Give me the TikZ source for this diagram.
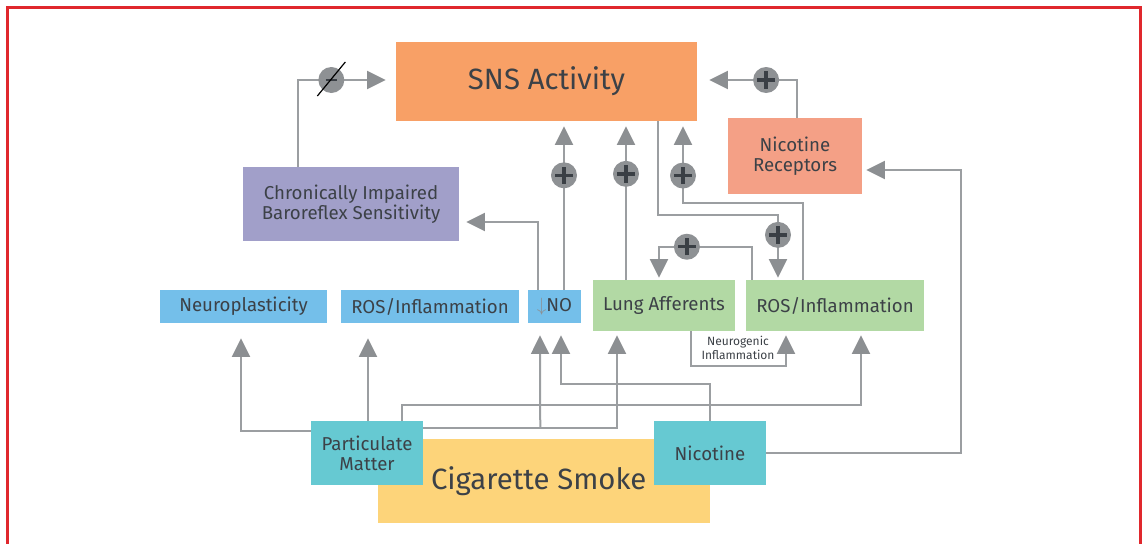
\documentclass[tikz,border=0pt]{standalone}
\usepackage{fontspec}
\setmainfont{Fira Sans}
\usetikzlibrary{calc,arrows.meta}

\definecolor{snsorange}{RGB}{248,160,102}
\definecolor{recsalmon}{RGB}{244,160,134}
\definecolor{baropurple}{RGB}{161,159,201}
\definecolor{cnsblue}{RGB}{116,191,234}
\definecolor{lunggreen}{RGB}{178,217,164}
\definecolor{smoketeal}{RGB}{102,201,210}
\definecolor{smokeyellow}{RGB}{253,212,122}
\definecolor{linegray}{RGB}{155,158,161}
\definecolor{headgray}{RGB}{140,143,146}
\definecolor{circgray}{RGB}{142,145,148}
\definecolor{signdark}{RGB}{58,63,69}
\definecolor{textdark}{RGB}{60,65,71}
\definecolor{framered}{RGB}{224,40,45}

% signs drawn with rules
\newcommand{\plussign}{\makebox[0pt]{\rule[-1.25pt]{13pt}{2.5pt}}\makebox[0pt]{\rule[-6.5pt]{2.5pt}{13pt}}}
\newcommand{\minussign}{\makebox[0pt]{\rule[-1.1pt]{8.5pt}{2.2pt}}}

\begin{document}
\begin{tikzpicture}[x=0.75pt,y=0.75pt,yscale=-1,xscale=1,
  box/.style={rectangle,inner sep=0pt,align=center,text=textdark,font=\fontsize{14}{15}\selectfont},
  flow/.style={draw=linegray,line width=1.5pt,-{Triangle[length=14pt,width=13.5pt,color=headgray]}},
  plusc/.style={circle,fill=circgray,text=signdark,inner sep=0pt,minimum size=19.5pt},
  minusc/.style={circle,fill=circgray,text=signdark,inner sep=0pt,minimum size=19.5pt}]
\useasboundingbox (0,0) rectangle (1142,543);

%Frame
\draw [framered,line width=2.25pt] (7,560) -- (7,7) -- (1140,7) -- (1140,560) ;

%Shape: Rectangle
\node [box,fill=snsorange,minimum width=225.75pt,minimum height=59.25pt,font=\fontsize{22}{24}\selectfont] (sns) at (546.5,81.5) {SNS Activity};
\node [box,fill=recsalmon,minimum width=100.5pt,minimum height=57pt] (nrec) at (795,156) {Nicotine\\Receptors};
\node [box,fill=baropurple,minimum width=162pt,minimum height=55.5pt] (baro) at (351,204) {Chronically Impaired\\Baroreflex Sensitivity};
% blue row
\node [box,fill=cnsblue,minimum width=125.25pt,minimum height=24.75pt] (neuro) at (243.5,306.5) {Neuroplasticity};
\node [box,fill=cnsblue,minimum width=133.5pt,minimum height=24.75pt] (rosb) at (430,306.5) {ROS/Inflammation};
\node [box,fill=cnsblue,minimum width=39.75pt,minimum height=24.75pt] (no) at (554.5,306.5) {{\color{headgray}$\downarrow$}NO};
% green row
\node [box,fill=lunggreen,minimum width=106.5pt,minimum height=38.25pt] (lung) at (664,305.5) {Lung Afferents};
\node [box,fill=lunggreen,minimum width=133.5pt,minimum height=38.25pt] (rosg) at (835,305.5) {ROS/Inflammation};
% smoke
\node [box,fill=smokeyellow,minimum width=249pt,minimum height=63pt,font=\fontsize{22}{24}\selectfont] (smoke) at (544,481) {\hspace*{-8pt}Cigarette Smoke};
\node [box,fill=smoketeal,minimum width=84pt,minimum height=48pt] (pm) at (367,453) {Particulate\\Matter};
\node [box,fill=smoketeal,minimum width=84pt,minimum height=48pt] (nic) at (710,453) {Nicotine};

%Straight Lines
\draw [flow] ($(baro.north)+(-53,0)$) |- node [minusc,pos=0.69] (m1) {\minussign} ($(sns.west)+(-10,-1.5)$) ;
\draw [black,line width=0.9pt] ($(m1)+(-14,16)$) -- ($(m1)+(14,-18)$) ;
\draw [flow] ($(nrec.north)+(2,0)$) |- node [plusc,pos=0.676] (p1) {\plussign} ($(sns.east)+(12,-1.5)$) ;
\draw [flow] ($(no.north)+(9.5,0)$) -- node [plusc,pos=0.70] (p2) {\plussign} ($(sns.south)+(17.5,5)$) ;
\draw [flow] ($(no.north)+(-16.5,0)$) |- ($(baro.east)+(7,18)$) ;
\draw [flow] ($(lung.north)+(-38,0)$) -- node [plusc,pos=0.69] (p3) {\plussign} ($(sns.south)+(79.5,5)$) ;
\draw [flow] ($(sns.south)+(111.5,0)$) |- ($(rosg.north)+(-57,-65)$) -- node [plusc,pos=0.32] (p4) {\plussign} ($(rosg.north)+(-57,-2)$) ;
\draw [flow] ($(rosg.north)+(-32,0)$) |- ($(sns.south)+(136.5,82)$) -- node [plusc,pos=0.36] (p5) {\plussign} ($(sns.south)+(136.5,5)$) ;
\draw [flow] ($(rosg.north)+(-83,0)$) |- node [plusc,pos=0.85] (p6) {\plussign} ($(lung.north)+(-5,-33)$) -- ($(lung.north)+(-5,-2)$) ;
\draw [flow] ($(lung.south)+(27,0)$) |- ($(rosg.south)+(-49,35)$) -- ($(rosg.south)+(-49,4)$) ;
\draw [flow] (nic.east) -| ($(nrec.east)+(99,14)$) -- ($(nrec.east)+(4,14)$) ;
\draw [flow] (nic.north) |- ($(no.south)+(6.5,61)$) -- ($(no.south)+(6.5,12)$) ;
\draw [flow] ($(pm.west)+(0,-22)$) -| ($(neuro.south)+(-2.5,15)$) ;
\draw [flow] ($(pm.north)+(1,0)$) -- ($(rosb.south)+(-62,15)$) ;
\draw [flow] ($(pm.east)+(0,-25)$) -| ($(lung.south)+(-47,4)$) ;
\draw [flow] ($(pm.east)+(117,-25)$) -- ($(no.south)+(-14.5,12)$) ;
\draw [flow] ($(pm.north)+(35,0)$) |- ($(rosg.south)+(26,74)$) -- ($(rosg.south)+(26,4)$) ;

% Text Node
\node [text=textdark,align=center,font=\fontsize{9}{10}\selectfont,inner sep=0pt] (neurolbl) at (738,348) {Neurogenic\\Inflammation};

\end{tikzpicture}
\end{document}
